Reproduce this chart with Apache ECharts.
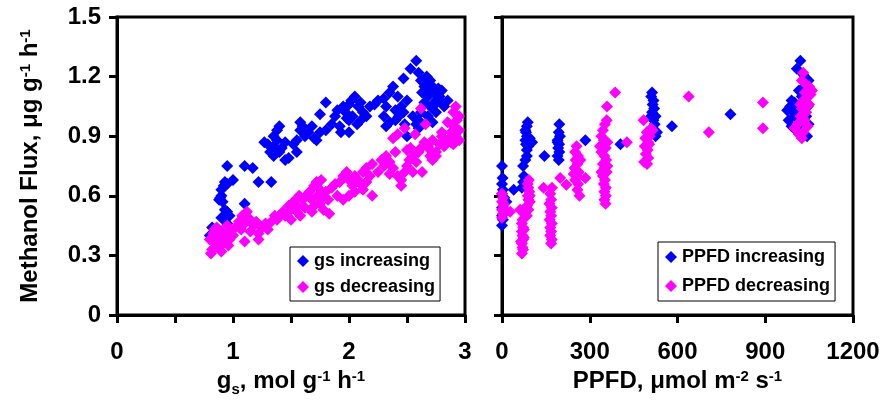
<!DOCTYPE html>
<html><head><meta charset="utf-8">
<script src="https://cdn.jsdelivr.net/npm/echarts@6/dist/echarts.min.js"></script>
<style>html,body{margin:0;padding:0;background:#fff}#c{width:883px;height:402px}</style>
</head><body><div id="c"></div>
<script>
// ---- data ----
const gsIncreasing = [
[0.8,0.40],[0.82,0.44],[0.85,0.42],[0.9,0.49],[0.95,0.46],[0.95,0.52],[0.97,0.50],[0.93,0.53],
[0.88,0.58],[0.9,0.60],[0.9,0.63],[0.92,0.65],[0.93,0.67],[0.95,0.66],[0.89,0.59],[0.91,0.57],
[0.95,0.75],[1.0,0.68],[1.1,0.75],[1.17,0.74],[1.22,0.67],[1.33,0.67],[1.1,0.56],
[1.27,0.87],[1.3,0.86],[1.35,0.90],[1.38,0.93],[1.4,0.95],[1.35,0.85],[1.4,0.82],[1.35,0.80],[1.42,0.84],[1.45,0.87],[1.38,0.88],[1.45,0.78],[1.48,0.79],[1.32,0.82],
[1.55,0.82],[1.55,0.88],[1.58,0.93],[1.6,0.95],[1.62,0.90],[1.65,0.92],[1.68,0.95],[1.7,0.89],[1.72,0.88],[1.75,0.92],[1.52,0.86],[1.58,0.97],
[1.75,1.01],[1.8,1.07],
[1.8,0.93],[1.85,0.96],[1.88,1.00],[1.9,1.03],[1.92,0.95],[1.95,1.05],[1.97,1.02],[2.0,1.06],[2.02,1.08],[2.05,1.10],[2.03,1.00],[2.0,0.98],[2.08,1.05],[2.1,1.07],[2.12,1.02],[2.15,1.00],[2.0,0.92],[2.07,0.96],[2.18,1.05],[1.93,0.92],[1.98,0.99],[2.1,0.98],
[2.22,1.06],[2.25,1.08],[2.3,1.09],[2.35,1.12],[2.38,1.15],[2.32,1.05],[2.3,1.00],[2.35,0.97],[2.32,0.95],[2.4,1.03],[2.42,1.10],[2.45,1.05],[2.4,0.98],[2.47,1.02],[2.5,1.08],[2.5,0.90],[2.48,0.96],[2.43,1.00],
[2.47,1.19],[2.53,1.24],[2.58,1.28],
[2.6,1.22],[2.62,1.18],[2.65,1.15],[2.63,1.12],[2.67,1.20],[2.7,1.18],[2.72,1.15],[2.68,1.10],[2.65,1.07],[2.7,1.05],[2.73,1.12],[2.75,1.08],[2.78,1.10],[2.8,1.07],[2.82,1.05],[2.62,1.02],[2.6,0.98],[2.68,1.00],[2.72,0.97],[2.75,1.02],[2.58,0.96],[2.55,1.00],[2.8,1.13],[2.85,1.08],[2.77,1.14],[2.66,1.13],[2.69,1.16],[2.74,1.06],[2.6,0.94]
];
const gsDecreasing = [
[0.8,0.38],[0.82,0.33],[0.83,0.41],[0.85,0.36],[0.87,0.39],[0.88,0.34],[0.9,0.42],[0.92,0.37],[0.94,0.40],[0.96,0.35],[0.98,0.43],[1.0,0.40],[0.81,0.31],[0.86,0.44],[0.84,0.43],[0.9,0.32],[0.95,0.45],[0.97,0.38],
[1.02,0.44],[1.05,0.47],[1.08,0.50],[1.1,0.46],[1.12,0.52],[1.15,0.48],[1.18,0.45],[1.2,0.47],[1.25,0.44],[1.22,0.41],[1.1,0.37],[1.22,0.38],[1.15,0.42],[1.07,0.43],[1.28,0.46],[1.3,0.43],[1.12,0.49],
[1.33,0.47],[1.36,0.50],[1.4,0.50],[1.43,0.52],[1.45,0.50],[1.48,0.55],[1.5,0.53],[1.52,0.57],[1.55,0.55],[1.57,0.60],[1.6,0.58],[1.5,0.48],[1.58,0.50],[1.62,0.54],[1.38,0.48],[1.55,0.52],
[1.63,0.60],[1.66,0.62],[1.68,0.58],[1.7,0.65],[1.72,0.67],[1.75,0.63],[1.73,0.60],[1.7,0.55],[1.75,0.56],[1.78,0.60],[1.8,0.62],[1.82,0.58],[1.85,0.64],[1.88,0.66],[1.83,0.51],[1.78,0.53],[1.9,0.60],[1.68,0.52],[1.76,0.68],
[1.92,0.67],[1.95,0.70],[1.98,0.72],[2.0,0.68],[2.03,0.65],[2.05,0.70],[2.08,0.68],[2.1,0.66],[2.12,0.72],[2.15,0.74],[2.18,0.70],[2.2,0.76],[2.0,0.60],[2.05,0.62],[2.12,0.63],[2.2,0.60],[2.25,0.72],[2.28,0.78],[1.95,0.58],[2.15,0.67],
[2.3,0.75],[2.32,0.80],[2.35,0.77],[2.38,0.74],[2.4,0.82],[2.42,0.70],[2.45,0.68],[2.48,0.72],[2.5,0.75],[2.52,0.78],[2.55,0.80],[2.58,0.77],[2.55,0.72],[2.6,0.82],[2.45,0.65],[2.38,0.89],[2.42,0.91],[2.48,0.94],[2.53,0.84],[2.57,0.91],[2.63,0.72],[2.5,0.83],[2.35,0.71],
[2.62,0.84],[2.65,0.87],[2.68,0.85],[2.7,0.80],[2.72,0.88],[2.75,0.82],[2.78,0.86],[2.8,0.90],[2.82,0.85],[2.85,0.88],[2.88,0.92],[2.9,0.95],[2.92,0.90],[2.95,0.93],[2.93,0.98],[2.95,1.00],[2.9,1.02],[2.92,1.05],[2.88,0.87],[2.85,0.97],[2.75,0.80],[2.72,0.78],[2.95,0.88],[2.66,0.96],[2.62,1.04],[2.7,0.83],[2.8,0.92],[2.9,0.86]
];
const ppfdIncreasing = [
[0,0.75],[2,0.69],[0,0.66],[3,0.63],[0,0.61],[8,0.59],[15,0.57],[0,0.54],[0,0.50],[3,0.48],[0,0.45],
[40,0.63],
[68,0.64],[72,0.67],[75,0.70],[72,0.75],[80,0.78],[85,0.80],[85,0.83],[82,0.86],[80,0.88],[85,0.90],[82,0.92],[85,0.95],[88,0.97],[95,0.89],[103,0.87],[90,0.85],[80,0.93],
[145,0.80],
[194,0.78],[190,0.80],[196,0.82],[192,0.84],[195,0.86],[190,0.88],[198,0.90],[194,0.92],[196,0.96],[190,0.87],
[285,0.88],[405,0.86],
[513,1.12],[510,1.10],[518,1.08],[515,1.06],[520,1.04],[513,1.02],[525,1.00],[518,0.98],[522,0.96],[515,0.94],[530,0.92],[525,0.90],[510,1.00],
[581,0.95],[781,1.01],
[1020,1.28],[1008,1.24],[1030,1.21],[1040,1.19],[1048,1.18],[1035,1.15],[1040,1.12],[1025,1.10],[990,1.08],[1000,1.07],[985,1.05],[975,1.03],[995,1.02],[1000,1.00],[980,0.98],[990,0.95],[1010,1.04],[1045,1.05],[1040,1.00],[1048,0.96],[1035,0.94],[1043,0.90],[1020,0.97],[1005,0.93],[1015,1.13],[1030,1.06]
];
const ppfdDecreasing = [
[0,0.61],[3,0.59],[0,0.57],[5,0.55],[0,0.53],[3,0.51],[0,0.49],[6,0.56],[28,0.52],[10,0.53],
[92,0.68],[88,0.66],[90,0.64],[93,0.62],[88,0.60],[90,0.58],[95,0.57],[86,0.55],[90,0.53],[80,0.52],[75,0.51],[85,0.50],[62,0.53],[95,0.60],
[70,0.48],[68,0.46],[72,0.44],[68,0.42],[70,0.40],[72,0.38],[68,0.36],[70,0.34],[72,0.33],[68,0.31],[75,0.39],[75,0.43],[65,0.37],
[142,0.64],[171,0.64],
[165,0.61],[168,0.58],[162,0.56],[170,0.54],[165,0.52],[168,0.50],[163,0.48],[170,0.46],[165,0.44],[168,0.42],[165,0.40],[170,0.38],[168,0.36],
[199,0.69],[220,0.655],
[255,0.85],[250,0.82],[260,0.80],[252,0.78],[258,0.76],[248,0.74],[262,0.72],[255,0.70],[250,0.68],[260,0.66],[258,0.63],[265,0.60],[245,0.71],[268,0.78],
[285,0.69],
[387,1.12],[359,1.05],[358,0.98],[352,0.96],[345,0.93],[340,0.90],[348,0.88],[360,0.87],[335,0.85],[355,0.84],[340,0.82],[350,0.80],[356,0.78],[345,0.76],[350,0.74],[358,0.72],[345,0.70],[352,0.68],[348,0.66],[355,0.64],[350,0.62],[355,0.60],[350,0.58],[354,0.56],[340,0.72],[360,0.75],
[427,0.87],
[484,0.98],[510,0.94],[495,0.92],[505,0.90],[490,0.89],[500,0.87],[488,0.85],[498,0.83],[492,0.81],[500,0.79],[486,0.77],[496,0.76],[503,0.86],[515,0.93],
[638,1.10],[707,0.92],[892,1.07],[892,0.94],
[1030,1.22],[1025,1.18],[1040,1.16],[1050,1.15],[1060,1.13],[1035,1.12],[1045,1.10],[1030,1.08],[1050,1.06],[1025,1.04],[1040,1.02],[1020,1.00],[1035,0.98],[1010,0.96],[1045,0.95],[1000,0.94],[1030,0.92],[1025,0.89],[1015,0.91],[1040,1.09],[1055,1.11],[1020,1.06]
];
const seriesNames = ['gs increasing','gs decreasing','PPFD increasing','PPFD decreasing'];
const yTicks = {min:0, max:1.5, interval:0.3};
const gsTicks = {min:0, max:3, interval:0.5};
const ppfdTicks = {min:0, max:1200, interval:300};

// ---- chart ----
const FONT = '"Liberation Sans", Arial, sans-serif';
const BLUE = '#0000ff', MAG = '#ff00ff';
const chart = echarts.init(document.getElementById('c'), null, {renderer:'canvas'});
const axisLine = {show:true, onZero:false, lineStyle:{color:'#000', width:3}};
const axisTick = {show:true, inside:false, length:8, lineStyle:{color:'#000', width:3}};
const lbl = {color:'#000', fontFamily:FONT, fontWeight:'bold', fontSize:24};
const nameRich = {
  b:{fontFamily:FONT, fontWeight:'bold', fontSize:24, color:'#000', verticalAlign:'bottom'},
  sup:{fontFamily:FONT, fontWeight:'bold', fontSize:15, color:'#000', verticalAlign:'top', padding:[0,0,4,0]},
  sub:{fontFamily:FONT, fontWeight:'bold', fontSize:15, color:'#000', verticalAlign:'bottom', padding:[0,0,-4,0]}
};
const legendBase = {
  orient:'vertical', backgroundColor:'#fff', borderColor:'#000', borderWidth:1,
  itemWidth:12, itemHeight:12, icon:'diamond',
  textStyle:{fontFamily:FONT, fontWeight:'bold', fontSize:18, color:'#000', lineHeight:18}
};
const sym = {symbol:'diamond', symbolSize:12};
chart.setOption({
  animation:false,
  backgroundColor:'#fff',
  grid:[
    {left:117, top:17, width:348, height:298, show:true, borderColor:'#000', borderWidth:3, backgroundColor:'transparent'},
    {left:502, top:17, width:351, height:298, show:true, borderColor:'#000', borderWidth:3, backgroundColor:'transparent'}
  ],
  xAxis:[
    {type:'value', gridIndex:0, min:gsTicks.min, max:gsTicks.max, interval:gsTicks.interval,
     axisLine, axisTick, splitLine:{show:false},
     axisLabel:Object.assign({margin:25, formatter:v => (Math.abs(v - Math.round(v)) < 1e-9 ? String(Math.round(v)) : '')}, lbl),
     name:'{b|g}{sub|s}{b|, mol g}{sup|-1}{b| h}{sup|-1}', nameLocation:'middle', nameGap:54,
     nameTextStyle:{rich:nameRich}},
    {type:'value', gridIndex:1, min:ppfdTicks.min, max:ppfdTicks.max, interval:ppfdTicks.interval,
     axisLine, axisTick, splitLine:{show:false},
     axisLabel:Object.assign({margin:25, formatter:v => String(v)}, lbl),
     name:'{b|PPFD, μmol m}{sup|-2}{b| s}{sup|-1}', nameLocation:'middle', nameGap:54,
     nameTextStyle:{rich:nameRich}}
  ],
  yAxis:[
    {type:'value', gridIndex:0, min:yTicks.min, max:yTicks.max, interval:yTicks.interval,
     axisLine, axisTick, splitLine:{show:false},
     axisLabel:Object.assign({margin:16}, lbl),
     name:'{b|Methanol Flux, μg g}{sup|-1}{b| h}{sup|-1}', nameLocation:'middle', nameGap:75, nameRotate:90,
     nameTextStyle:{rich:nameRich}},
    {type:'value', gridIndex:1, min:yTicks.min, max:yTicks.max, interval:yTicks.interval,
     axisLine, axisTick, splitLine:{show:false}, axisLabel:{show:false}}
  ],
  legend:[
    Object.assign({left:290, top:247, padding:[5,5,5,7], itemGap:8, data:[seriesNames[0], seriesNames[1]]}, legendBase),
    Object.assign({left:658, top:242, padding:[6,5,6,7], itemGap:11, data:[seriesNames[2], seriesNames[3]]}, legendBase)
  ],
  series:[
    Object.assign({name:seriesNames[0], type:'scatter', xAxisIndex:0, yAxisIndex:0, itemStyle:{color:BLUE, opacity:1}, data:gsIncreasing}, sym),
    Object.assign({name:seriesNames[1], type:'scatter', xAxisIndex:0, yAxisIndex:0, itemStyle:{color:MAG, opacity:1}, data:gsDecreasing}, sym),
    Object.assign({name:seriesNames[2], type:'scatter', xAxisIndex:1, yAxisIndex:1, itemStyle:{color:BLUE, opacity:1}, data:ppfdIncreasing}, sym),
    Object.assign({name:seriesNames[3], type:'scatter', xAxisIndex:1, yAxisIndex:1, itemStyle:{color:MAG, opacity:1}, data:ppfdDecreasing}, sym)
  ]
});
</script></body></html>
